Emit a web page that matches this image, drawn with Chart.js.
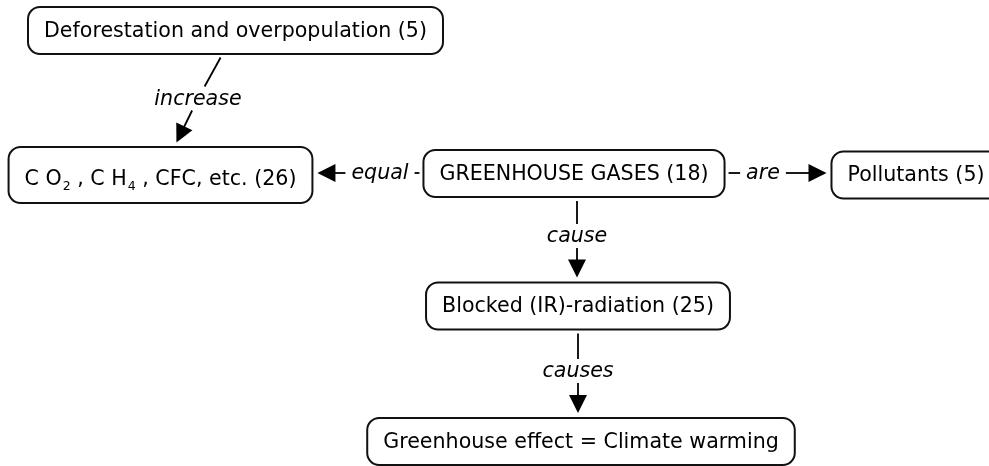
<!DOCTYPE html>
<html>
<head>
<meta charset="utf-8">
<script src="https://cdn.jsdelivr.net/npm/chart.js@4.4.1/dist/chart.umd.min.js"></script>
<style>
  html, body { margin: 0; padding: 0; background: #fff; }
  canvas { display: block; }
</style>
</head>
<body>
<canvas id="conceptChart" width="989" height="466"></canvas>
<script>
// concept map data
const conceptNames = ['Deforestation and overpopulation', 'C O₂ , C H₄ , CFC, etc.', 'GREENHOUSE GASES', 'Pollutants', 'Blocked (IR)-radiation', 'Greenhouse effect = Climate warming'];
const conceptCounts = [5, 26, 18, 5, 25, null];
const conceptX = [235.5, 160.5, 574, 916, 578, 581];
const conceptY = [30.5, 175, 173.5, 175, 306, 441.5];

const linkPhrases = ['increase', 'equal', 'are', 'cause', 'causes'];
const linkFrom = [0, 2, 2, 2, 4];
const linkTo = [1, 1, 3, 4, 5];
const linkX = [198, 380, 763, 577, 578];
const linkY = [98.5, 173, 173, 236, 371];

const FONT = '20.6px "DejaVu Sans"';
const SUB_FONT = '12.5px "DejaVu Sans"';
const LINK_FONT = 'italic 20.6px "DejaVu Sans"';
const SUBS = '₀₁₂₃₄₅₆₇₈₉';

function runsOf(text) {
    const runs = [];
    for (const ch of text) {
        const s = SUBS.indexOf(ch);
        const isSub = s >= 0;
        const c = isSub ? String(s) : ch;
        const last = runs[runs.length - 1];
        if (last && last.sub === isSub) last.t += c;
        else runs.push({ t: c, sub: isSub });
    }
    return runs;
}

function edgePoint(cx, cy, hw, hh, tx, ty, gap) {
    const dx = tx - cx, dy = ty - cy;
    const len = Math.hypot(dx, dy);
    const ux = dx / len, uy = dy / len;
    const t = Math.min(ux ? hw / Math.abs(ux) : Infinity, uy ? hh / Math.abs(uy) : Infinity);
    return { x: cx + ux * (t + gap), y: cy + uy * (t + gap) };
}

const conceptMap = {
    id: 'conceptMap',
    afterDatasetsDraw(chart) {
        const ctx = chart.ctx;
        const nodes = chart.getDatasetMeta(0).data;
        const labels = chart.getDatasetMeta(1).data;

        // measure concept boxes
        const boxes = conceptNames.map((name, i) => {
            const text = conceptCounts[i] != null ? name + ' (' + conceptCounts[i] + ')' : name;
            const runs = runsOf(text);
            let w = 0;
            runs.forEach(r => {
                ctx.font = r.sub ? SUB_FONT : FONT;
                r.w = ctx.measureText(r.t).width + (r.sub ? 1 : 0);
                w += r.w;
            });
            const hasSub = runs.some(r => r.sub);
            return { cx: nodes[i].x, cy: nodes[i].y, tw: w, hw: w / 2 + 16, hh: hasSub ? 28 : 23.5, runs, hasSub };
        });

        // measure linking phrases
        ctx.font = LINK_FONT;
        const labs = linkPhrases.map((p, i) => {
            const w = ctx.measureText(p).width;
            return { x: labels[i].x, y: labels[i].y, hw: w / 2 + 6, hh: 12 };
        });

        ctx.save();
        ctx.strokeStyle = '#000';
        ctx.fillStyle = '#000';
        ctx.lineWidth = 1.8;

        linkPhrases.forEach((p, i) => {
            const s = boxes[linkFrom[i]], t = boxes[linkTo[i]], l = labs[i];
            let A, B1, B2, C;
            if (Math.abs(s.cx - t.cx) < 20) {
                const d = Math.sign(l.y - s.cy);
                A = { x: l.x, y: s.cy + d * (s.hh + 4) };
                B1 = { x: l.x, y: l.y - d * l.hh };
                B2 = { x: l.x, y: l.y + d * l.hh };
                C = { x: l.x, y: t.cy - d * (t.hh + 5) };
            } else if (Math.abs(s.cy - t.cy) < 20) {
                const d = Math.sign(l.x - s.cx);
                A = { x: s.cx + d * (s.hw + 4), y: l.y };
                B1 = { x: l.x - d * l.hw, y: l.y };
                B2 = { x: l.x + d * l.hw, y: l.y };
                C = { x: t.cx - d * (t.hw + 5), y: l.y };
            } else {
                A = edgePoint(s.cx, s.cy, s.hw, s.hh, l.x, l.y, 4);
                B1 = edgePoint(l.x, l.y, l.hw, l.hh, s.cx, s.cy, 0);
                B2 = edgePoint(l.x, l.y, l.hw, l.hh, t.cx, t.cy, 0);
                C = edgePoint(t.cx, t.cy, t.hw, t.hh, l.x, l.y, 5);
            }
            ctx.beginPath();
            ctx.moveTo(A.x, A.y);
            ctx.lineTo(B1.x, B1.y);
            ctx.stroke();

            const len = Math.hypot(C.x - B2.x, C.y - B2.y);
            const ux = (C.x - B2.x) / len, uy = (C.y - B2.y) / len;
            const head = 18, half = 9;
            ctx.beginPath();
            ctx.moveTo(B2.x, B2.y);
            ctx.lineTo(C.x - ux * (head - 1), C.y - uy * (head - 1));
            ctx.stroke();
            ctx.beginPath();
            ctx.moveTo(C.x, C.y);
            ctx.lineTo(C.x - ux * head - uy * half, C.y - uy * head + ux * half);
            ctx.lineTo(C.x - ux * head + uy * half, C.y - uy * head - ux * half);
            ctx.closePath();
            ctx.fill();

            ctx.font = LINK_FONT;
            ctx.textAlign = 'center';
            ctx.textBaseline = 'alphabetic';
            ctx.fillText(p, l.x, l.y + 6);
        });

        // concept boxes
        boxes.forEach(b => {
            ctx.beginPath();
            ctx.roundRect(b.cx - b.hw, b.cy - b.hh, b.hw * 2, b.hh * 2, 12);
            ctx.fillStyle = '#fff';
            ctx.fill();
            ctx.strokeStyle = '#111';
            ctx.lineWidth = 2;
            ctx.stroke();

            ctx.fillStyle = '#000';
            ctx.textAlign = 'left';
            ctx.textBaseline = 'alphabetic';
            const base = b.cy + (b.hasSub ? 9.5 : 6);
            let x = b.cx - b.tw / 2;
            b.runs.forEach(r => {
                ctx.font = r.sub ? SUB_FONT : FONT;
                ctx.fillText(r.t, r.sub ? x + 1 : x, r.sub ? base + 5 : base);
                x += r.w;
            });
        });
        ctx.restore();
    }
};

const ctx = document.getElementById('conceptChart');
new Chart(ctx, {
    type: 'scatter',
    data: {
        datasets: [
            { label: 'Concepts', data: conceptX.map((x, i) => ({ x: x, y: conceptY[i] })), pointRadius: 0 },
            { label: 'Linking phrases', data: linkX.map((x, i) => ({ x: x, y: linkY[i] })), pointRadius: 0 }
        ]
    },
    options: {
        responsive: false,
        animation: false,
        devicePixelRatio: 1,
        events: [],
        layout: { padding: 0 },
        scales: {
            x: { type: 'linear', min: 0, max: 989, display: false },
            y: { type: 'linear', min: 0, max: 466, reverse: true, display: false }
        },
        plugins: {
            legend: { display: false },
            tooltip: { enabled: false }
        }
    },
    plugins: [conceptMap]
});
</script>
</body>
</html>
